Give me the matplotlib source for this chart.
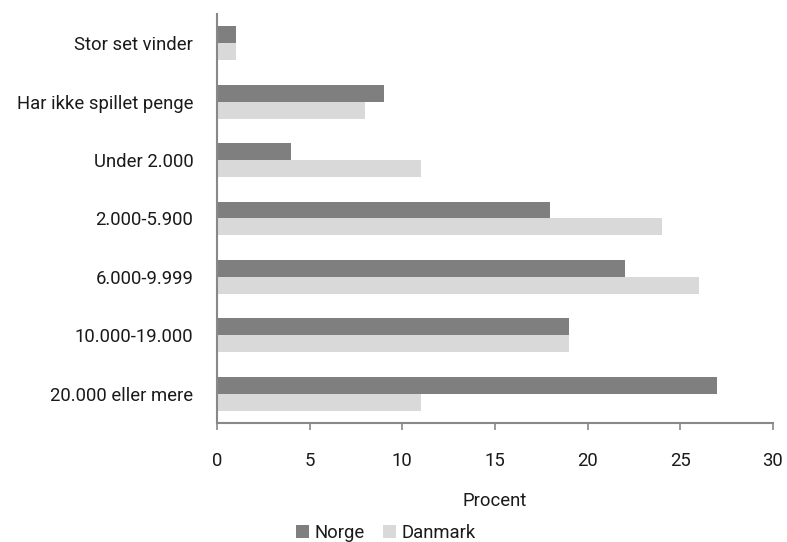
import matplotlib.pyplot as plt
import numpy as np

categories = ['Stor set vinder', 'Har ikke spillet penge', 'Under 2.000', '2.000-5.900',
              '6.000-9.999', '10.000-19.000', '20.000 eller mere']
norge = [1, 9, 4, 18, 22, 19, 27]
danmark = [1, 8, 11, 24, 26, 19, 11]

plt.rcParams['font.family'] = ['Roboto', 'DejaVu Sans']

fig = plt.figure(figsize=(7.87, 5.42), dpi=100)
ax = fig.add_axes([0.2757, 0.2196, 0.7063, 0.7546])

y = np.arange(len(categories))
h = 0.29
ax.barh(y - h / 2, norge, height=h, color='#7f7f7f', label='Norge')
ax.barh(y + h / 2, danmark, height=h, color='#d9d9d9', label='Danmark')

ax.set_ylim(len(categories) - 0.5, -0.5)
ax.set_xlim(0, 30)
ax.set_yticks(y)
ax.set_yticklabels(categories)
ax.set_xticks(np.arange(0, 31, 5))

for s in ['top', 'right']:
    ax.spines[s].set_visible(False)
for s in ['left', 'bottom']:
    ax.spines[s].set_color('#888888')
    ax.spines[s].set_linewidth(1.5)

ax.tick_params(axis='y', length=0, pad=17, labelsize=13.3, colors='#1a1a1a')
ax.tick_params(axis='x', length=5, width=1.2, color='#888888', pad=16, labelsize=13.3, labelcolor='#1a1a1a')
ax.set_xlabel('Procent', fontsize=13.3, color='#1a1a1a', labelpad=16)

fig.legend(loc='lower center', bbox_to_anchor=(0.49, -0.03), ncol=2, frameon=False,
           fontsize=13.3, handlelength=0.7, handleheight=0.7, handletextpad=0.3,
           columnspacing=1.0, labelcolor='#1a1a1a')

fig.savefig('out.png', dpi=100)
